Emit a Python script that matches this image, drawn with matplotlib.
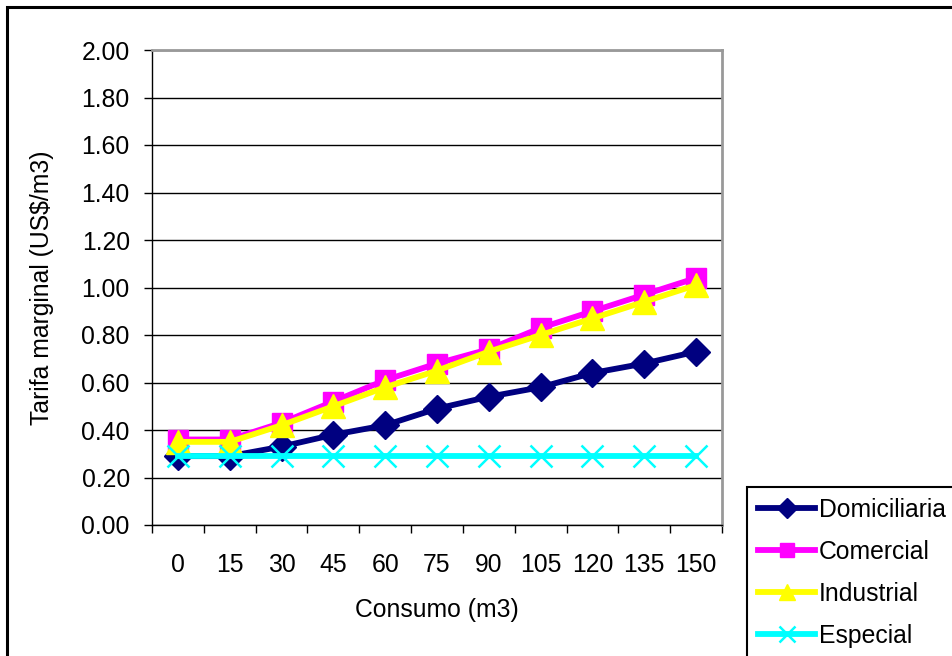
import matplotlib
matplotlib.use("Agg")
import matplotlib.pyplot as plt
from matplotlib.patches import Rectangle
from matplotlib.ticker import FixedLocator, FixedFormatter

plt.rcParams['font.family'] = ['Liberation Sans', 'DejaVu Sans']

# data
consumo = ["0", "15", "30", "45", "60", "75", "90", "105", "120", "135", "150"]
domiciliaria = [0.29, 0.29, 0.33, 0.38, 0.42, 0.49, 0.54, 0.58, 0.64, 0.68, 0.73]
comercial = [0.36, 0.36, 0.43, 0.52, 0.61, 0.68, 0.74, 0.83, 0.90, 0.97, 1.04]
industrial = [0.35, 0.35, 0.42, 0.50, 0.58, 0.65, 0.73, 0.80, 0.87, 0.94, 1.01]
especial = [0.29] * 11
y_ticks = [0.0, 0.2, 0.4, 0.6, 0.8, 1.0, 1.2, 1.4, 1.6, 1.8, 2.0]

FS = 17.8
W, H = 953, 656
fig = plt.figure(figsize=(W / 100, H / 100), dpi=100)
ax = fig.add_axes([152 / W, 1 - 525 / H, (722 - 152) / W, (525 - 50) / H])

x = list(range(len(consumo)))
ax.plot(x, domiciliaria, color="#000080", lw=4.2, marker="D", ms=14, label="Domiciliaria")
ax.plot(x, comercial, color="#FF00FF", lw=4.2, marker="s", ms=14, label="Comercial")
ax.plot(x, industrial, color="#FFFF00", lw=4.2, marker="^", ms=17, label="Industrial")
ax.plot(x, especial, color="#00FFFF", lw=4.2, marker="x", ms=16, mew=1.8, label="Especial")

ax.set_xlim(-0.5, len(consumo) - 0.5)
ax.set_ylim(0, 2.0)
ax.set_yticks(y_ticks)
ax.set_yticklabels([f"{v:.2f}" for v in y_ticks])
ax.yaxis.grid(True, color="black", lw=1)
ax.set_axisbelow(True)

# ticks at category boundaries, labels at the centres
ax.xaxis.set_major_locator(FixedLocator([i - 0.5 for i in range(len(consumo) + 1)]))
ax.xaxis.set_major_formatter(FixedFormatter([""] * (len(consumo) + 1)))
ax.xaxis.set_minor_locator(FixedLocator(x))
ax.xaxis.set_minor_formatter(FixedFormatter(consumo))
ax.tick_params(axis="x", which="major", direction="out", length=6, width=1, color="black")
ax.tick_params(axis="x", which="minor", length=0, pad=20, labelsize=FS)
ax.tick_params(axis="y", direction="out", length=6, width=1, pad=10, labelsize=FS)

for side in ("top", "right"):
    ax.spines[side].set_color("#999999")
    ax.spines[side].set_linewidth(2)
for side in ("left", "bottom"):
    ax.spines[side].set_color("black")
    ax.spines[side].set_linewidth(1)

ax.set_xlabel("Consumo (m3)", fontsize=FS, labelpad=15)
ax.set_ylabel("Tarifa marginal (US$/m3)", fontsize=FS, labelpad=20)

leg = fig.legend(loc="upper left", bbox_to_anchor=(747 / W, 1 - 487 / H),
                 fontsize=FS, frameon=True, fancybox=False, framealpha=1,
                 edgecolor="black", handlelength=2.3, handletextpad=0.15,
                 labelspacing=0.72, borderpad=0.45, borderaxespad=0, markerscale=0.7)
leg.get_frame().set_linewidth(1.5)

# outer chart border, running off the right and bottom edges
fig.patches.append(Rectangle((7 / W, -0.1), 1.2, 1 - 7 / H + 0.1, transform=fig.transFigure,
                             fill=False, edgecolor="black", lw=2.2))

fig.savefig("out.png", dpi=100)
